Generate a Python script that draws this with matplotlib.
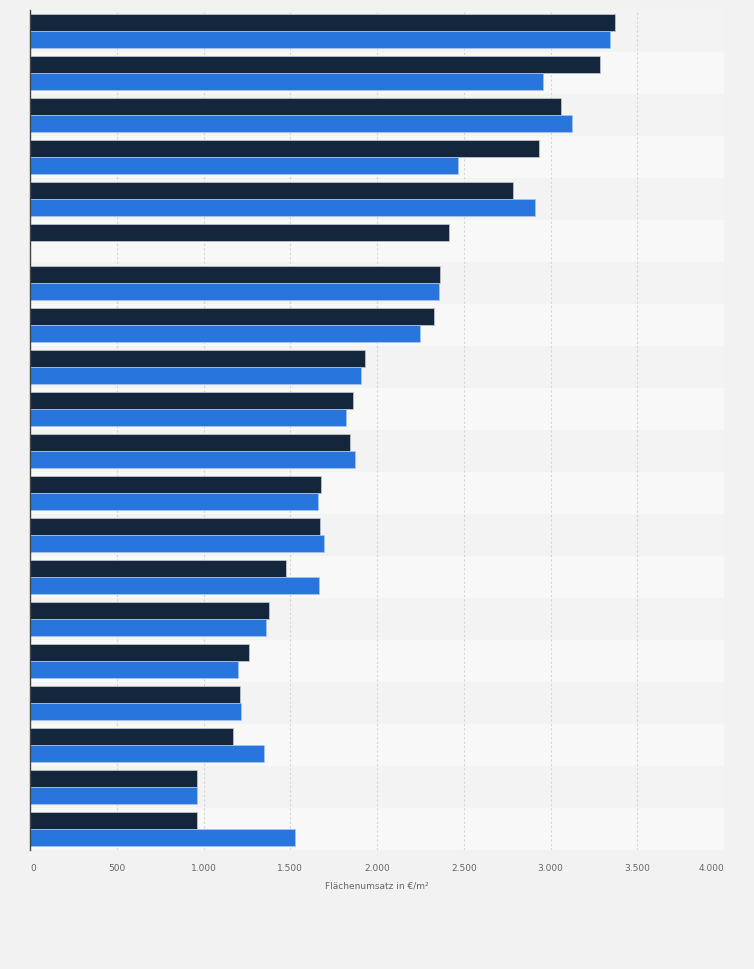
import numpy as np
import matplotlib
matplotlib.use("Agg")
import matplotlib.pyplot as plt
from matplotlib.ticker import FuncFormatter

# Flächenumsatz in EUR/m2, two series per row (dark = first, blue = second)
series_dark = [3374, 3287, 3063, 2934, 2786, 2415, 2362, 2327, 1932, 1862,
               1845, 1678, 1672, 1477, 1379, 1263, 1211, 1171, 964, 964]
series_blue = [3345, 2959, 3122, 2464, 2913, None, 2356, 2247, 1909, 1822,
               1876, 1661, 1695, 1667, 1361, 1200, 1217, 1350, 964, 1528]
x_ticks = [0, 500, 1000, 1500, 2000, 2500, 3000, 3500, 4000]
x_label = "Flächenumsatz in €/m²"

DARK = "#13263b"
BLUE = "#2876dd"
BG = "#f2f2f2"


def de_fmt(v, pos):
    return f"{int(v):,}".replace(",", ".")


def main():
    fig = plt.figure(figsize=(7.54, 9.69), dpi=100, facecolor=BG)
    ax = fig.add_axes([30 / 754, 1 - 850 / 969, 694 / 754, 840 / 969])
    ax.set_facecolor(BG)

    n = len(series_dark)
    y = np.arange(n)

    # alternating row bands
    for i in range(n):
        ax.axhspan(i - 0.5, i + 0.5, color="#f3f3f3" if i % 2 == 0 else "#f8f8f8",
                   zorder=0, lw=0)

    ax.barh(y - 0.21, series_dark, height=0.4, color=DARK,
            edgecolor="#c8ccd2", linewidth=0.5, zorder=3)
    blue_y = [yy for yy, v in zip(y, series_blue) if v is not None]
    blue_v = [v for v in series_blue if v is not None]
    ax.barh(np.array(blue_y) + 0.2, blue_v, height=0.4, color=BLUE,
            edgecolor="#a9c8f0", linewidth=0.5, zorder=3)

    ax.set_ylim(n - 0.5, -0.5)
    ax.set_xlim(0, 4000)
    ax.set_yticks([])
    ax.set_xticks(x_ticks)
    ax.xaxis.set_major_formatter(FuncFormatter(de_fmt))
    ax.tick_params(axis="x", length=0, pad=10, labelsize=6.5, labelcolor="#666666")
    for lbl in ax.get_xticklabels():
        lbl.set_fontfamily("DejaVu Sans")
    labels = ax.get_xticklabels()
    labels[0].set_horizontalalignment("left")
    labels[-1].set_horizontalalignment("right")

    ax.grid(axis="x", color="#d4d4d4", linestyle=(0, (2, 2)), linewidth=0.8, zorder=1)
    ax.set_axisbelow(True)

    for side in ["top", "right", "bottom"]:
        ax.spines[side].set_visible(False)
    ax.spines["left"].set_color("#444444")
    ax.spines["left"].set_linewidth(1.0)
    ax.spines["left"].set_zorder(4)

    ax.set_xlabel(x_label, fontsize=6.5, color="#666666", labelpad=6)

    fig.savefig("out.png", dpi=100, facecolor=BG)
    plt.close(fig)


if __name__ == "__main__":
    main()
